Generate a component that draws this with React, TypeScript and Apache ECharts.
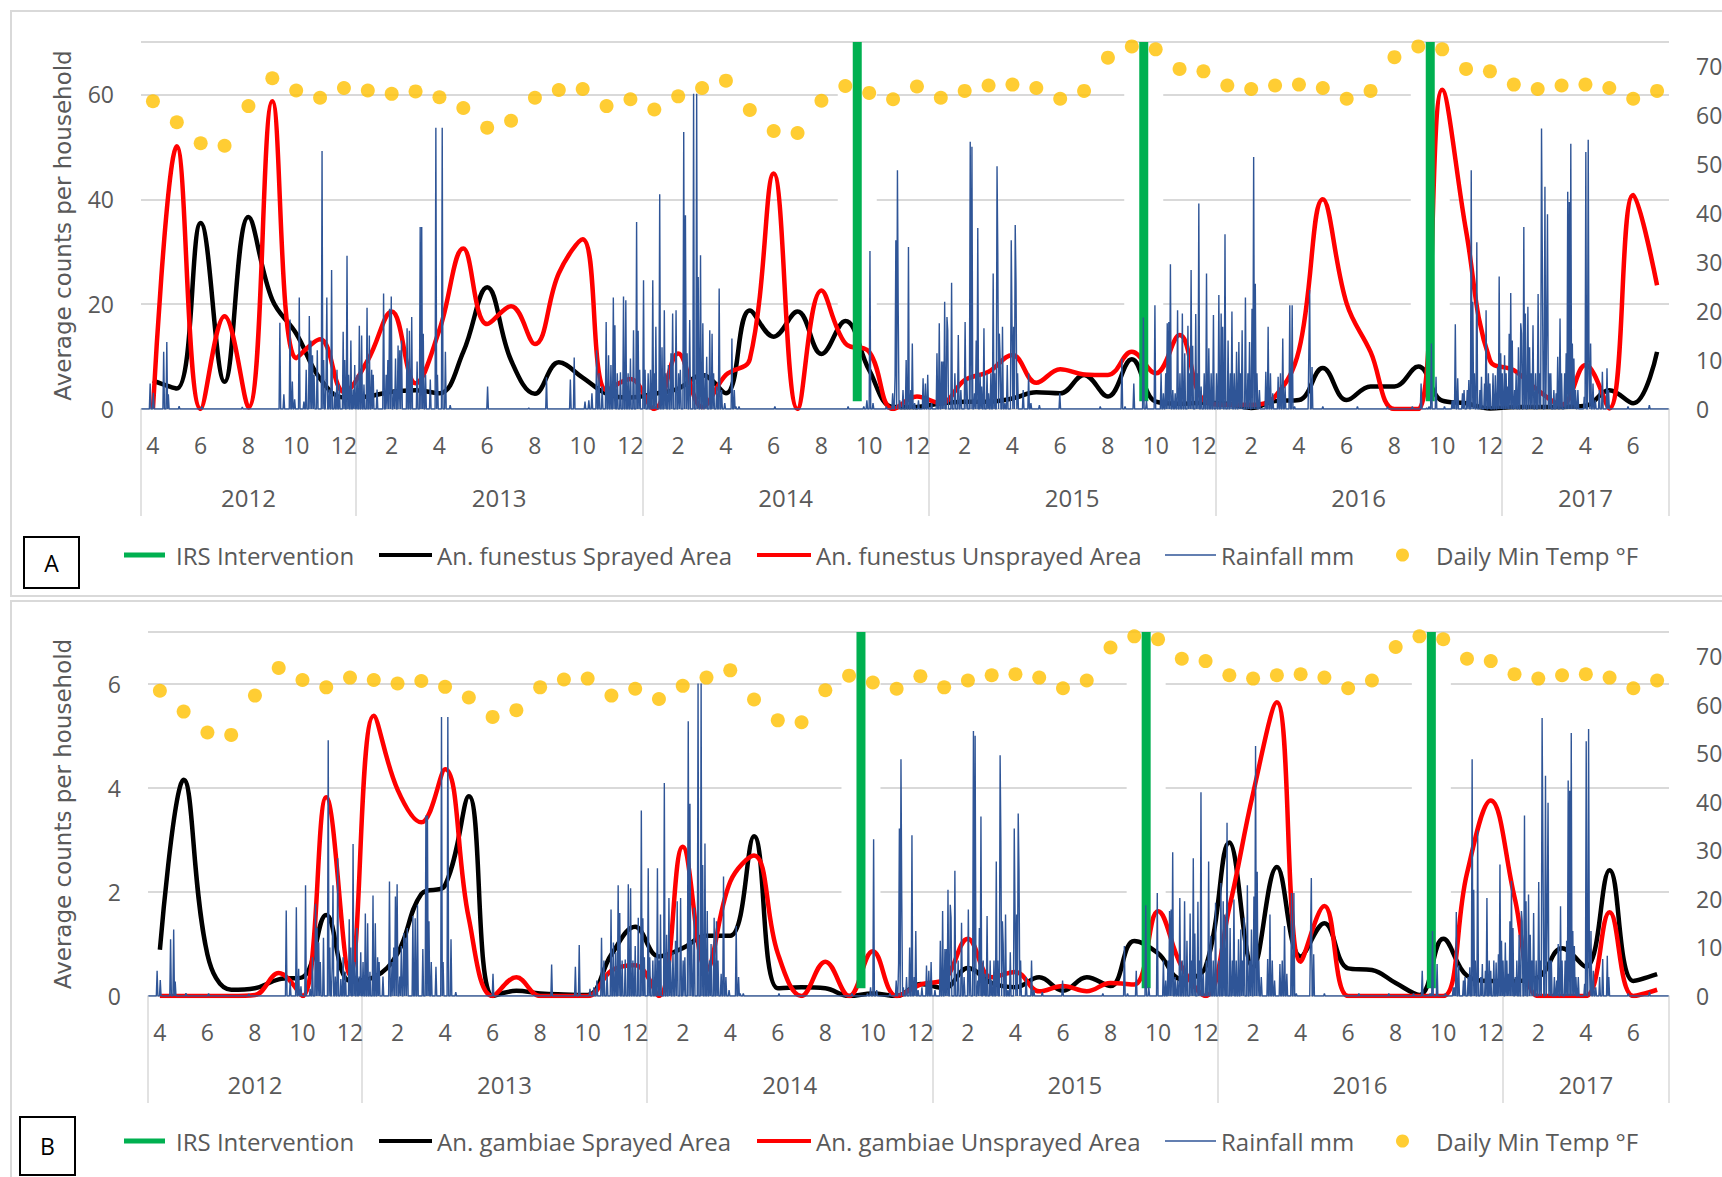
import React, { useEffect, useRef } from "react";
import * as echarts from "echarts";

// ---------- DATA (months indexed from April 2012 = 0 to July 2017 = 63) ----------
const monthTickLabels = ["4","6","8","10","12","2","4","6","8","10","12","2","4","6","8","10","12","2","4","6","8","10","12","2","4","6","8","10","12","2","4","6"];
const yearLabels = ["2012", "2013", "2014", "2015", "2016", "2017"];
const yearMonthCounts = [9, 12, 12, 12, 12, 7];
const irsMonthIndex = [30, 42, 54]; // 1 Oct 2014, 2015, 2016
const irsRange = [1.6, 75];

const dailyMinTempF = [62.9,58.6,54.3,53.8,61.9,67.6,65.1,63.6,65.6,65.1,64.4,64.9,63.7,61.5,57.5,58.9,63.6,65.2,65.4,61.9,63.3,61.2,63.9,65.6,67.1,61.1,56.8,56.4,63.0,66.0,64.6,63.3,65.9,63.6,65.0,66.1,66.3,65.6,63.4,65.0,71.8,74.1,73.5,69.5,69.0,66.1,65.4,66.1,66.3,65.6,63.4,65.0,71.9,74.1,73.5,69.5,69.0,66.3,65.4,66.1,66.3,65.6,63.4,65.0];

const funestusSprayed = [5.4,3.9,35.5,5.2,36.6,20.8,14.4,5.8,2.2,2.4,3.3,3.6,3.0,10.9,23.2,9.3,2.9,8.9,6.0,2.9,2.2,2.9,3.9,6.5,3.0,18.8,13.8,18.6,10.5,16.8,7.4,0.4,0.4,1.1,1.4,1.4,2.0,3.2,3.0,6.5,2.4,9.5,1.4,1.0,1.2,1.0,0.2,1.5,1.7,7.8,1.7,4.3,4.3,8.1,1.6,1.1,0.1,0.4,0.4,0.4,0.6,3.6,1.1,10.9];
const funestusUnsprayed = [0,50.1,0,17.7,0.3,58.7,9.7,13.3,3.3,9.3,18.6,4.9,15.1,30.6,16.2,19.6,12.4,25.9,32.4,3.6,5.7,0,10.6,0.4,6.5,9.5,44.9,0,22.6,12.5,10.9,0,2.4,1.1,5.5,7.1,10.3,5.0,7.6,6.6,6.5,10.9,6.8,14.1,1.7,0.8,0.8,2.4,11.2,40.0,20.1,10.9,0,0,60.9,34,9.3,7.4,3.6,0.8,8.4,0.1,40.8,23.6];

const gambiaeSprayed = [0.89,4.16,0.8,0.12,0.15,0.32,0.36,1.56,0.29,0.36,0.82,1.96,2.13,3.84,0,0.1,0.05,0.03,0.02,0.8,1.33,0.76,0.92,1.16,1.16,3.07,0.15,0.17,0.15,0,0.05,0,0.23,0.15,0.54,0.25,0.17,0.36,0.1,0.36,0.19,1.06,0.82,0.32,0.56,2.95,0.55,2.48,0.76,1.4,0.53,0.5,0.25,0.02,1.1,0.39,0.29,0.29,0.36,0.92,0.56,2.42,0.29,0.42];
const gambiaeUnsprayed = [0,0,0,0,0.02,0.44,0,3.82,0.4,5.39,3.97,3.34,4.36,1.49,0,0.36,0,0,0,0.49,0.59,0,2.87,0.5,2.2,2.7,0.82,0,0.66,0,0.86,0,0.22,0.32,1.1,0.36,0.46,0.09,0.19,0.09,0.25,0.22,1.63,0.56,0,1.7,3.9,5.65,0.66,1.73,0,0,0,0,0,2.36,3.76,1.9,0,0,0,1.61,0,0.12];

// rain days: [monthIndex, dayOfMonth, mm]; all other days 0 mm
const rainEvents: [number, number, number][] = [
  [0,12,5.2],[0,16,3.3],[0,29,11.7],
  [1,3,13.7],[1,5,3],[1,19,0.6],[2,17,0.5],[4,8,0.4],
  [5,25,17.6],[5,30,3],
  [6,8,18.3],[6,11,5.6],[6,14,2],[6,20,22.8],[6,26,1.5],[6,29,8],
  [7,2,19],[7,4,14],[7,6,11],[7,8,7],[7,12,12],[7,18,52.7],[7,20,10],[7,23,6],[7,24,22.8],[7,27,4],[7,30,28.4],
  [8,4,3.5],[8,7,8],[8,10,5],[8,15,15.8],[8,17,10],[8,20,31.3],[8,22,7],[8,25,14],[8,28,4],[8,30,9],
  [9,2,7],[9,5,17],[9,8,15],[9,11,5],[9,15,20.7],[9,18,15],[9,21,8],[9,23,7],[9,28,4],
  [10,5,23.6],[10,8,7],[10,10,10],[10,12,20.5],[10,14,23],[10,17,4],[10,19,10.3],[10,22,13],[10,24,12],[10,26,14],
  [11,5,16.5],[11,8,16],[11,11,18.8],[11,18,9.7],[11,22,37.2],[11,24,37.2],[11,26,15.4],[11,29,7],
  [12,4,6],[12,11,57.5],[12,13,7],[12,19,57.5],[12,23,11.7],[12,29,0.8],
  [14,16,4.6],[16,8,0.2],[16,31,6.5],[17,30,6],
  [18,5,10.5],[18,19,1.5],[18,24,1.8],[18,28,3.2],
  [19,3,12],[19,6,7.3],[19,10,4.6],[19,15,17.8],[19,18,11],[19,21,9],[19,24,22.8],[19,26,17.1],[19,29,7.3],
  [20,3,7.5],[20,7,23],[20,10,22.2],[20,13,7.3],[20,16,10.3],[20,20,16.1],[20,24,38.2],[20,26,16],[20,28,8],
  [21,2,26.3],[21,4,8],[21,8,7.3],[21,11,8],[21,14,26.3],[21,16,7.3],[21,18,16.8],[21,23,43.9],[21,26,12.6],[21,29,20.2],[21,31,7.3],
  [22,3,9],[22,6,11.4],[22,8,19.5],[22,12,20.2],[22,15,7.3],[22,17,8],[22,21,56.6],[22,23,39.6],[22,25,11.4],[22,28,18.2],
  [23,5,64.4],[23,9,64.4],[23,11,27],[23,14,31.4],[23,17,17.5],[23,20,7.3],[23,22,10.7],[23,26,16.1],[23,29,15.4],[23,31,7.3],
  [24,4,4.6],[24,7,24.6],[24,10,3.9],[24,14,1.2],[24,23,14.4],[24,26,3.9],[24,28,0.5],
  [25,2,0.5],[26,17,0.5],[29,19,0.5],
  [30,9,0.5],[30,13,1.8],[30,17,32.3],[30,21,1.2],
  [31,7,0.5],[31,15,3.2],[31,18,6.7],[31,19,34.5],[31,21,48.8],[31,22,20],[31,24,1.8],[31,28,3.9],
  [32,2,10],[32,5,33.1],[32,8,3.9],[32,10,13.4],[32,13,1.2],[32,18,1.8],[32,24,6.3],[32,27,5.2],[32,30,7],
  [33,4,1.2],[33,11,11.4],[33,14,17.5],[33,17,9.7],[33,19,9.7],[33,21,21.9],[33,24,18.8],[33,25,16.1],[33,30,25.8],
  [34,3,7.3],[34,7,15.1],[34,10,3.9],[34,15,17.8],[34,17,5.9],[34,21,54.6],[34,23,53.6],[34,26,3.2],[34,28,14],
  [35,2,37],[35,5,7.3],[35,7,4.6],[35,10,16.5],[35,14,7.3],[35,16,3.2],[35,19,7.3],[35,22,27.7],[35,24,7.3],[35,27,49.6],[35,28,31.8],[35,30,15.4],[35,31,10.7],
  [36,3,16.8],[36,6,1.2],[36,9,9],[36,14,34.5],[36,15,17],[36,17,16.8],[36,19,37.6],[36,20,25.8],[36,22,7.3],[36,29,3.9],
  [37,6,7.3],[37,9,1.2],[37,20,0.8],[38,15,3.2],[40,6,0.5],
  [41,3,10.3],[41,7,0.5],[41,18,5.2],[41,30,18.7],
  [42,4,1.8],[42,15,21.2],[42,23,7.3],[42,26,3.2],[42,29,7.3],[42,31,17.5],
  [43,2,17.8],[43,4,29.6],[43,7,3.9],[43,10,3.2],[43,13,20.2],[43,16,7.3],[43,19,19.5],[43,22,11.4],[43,26,17],[43,28,7.3],[43,30,28.4],
  [44,2,12.9],[44,6,19.4],[44,8,7.3],[44,10,42],[44,13,4.6],[44,17,7.3],[44,20,27.7],[44,23,12.4],[44,26,7.3],[44,29,19.2],
  [45,2,7.3],[45,5,23.3],[45,8,19.5],[45,10,16.8],[45,13,35.7],[45,17,14],[45,20,7.3],[45,22,19.9],[45,25,7.3],[45,28,11.7],[45,31,13.7],
  [46,2,7.3],[46,4,16.1],[46,8,22.8],[46,11,7.3],[46,13,13.7],[46,16,20.5],[46,18,51.5],[46,20,25.6],[46,22,7.3],[46,25,3.9],
  [47,4,7.6],[47,7,16.8],[47,10,7.3],[47,13,3.2],[47,20,6.6],[47,23,7.3],[47,26,14.4],[47,29,4.6],
  [48,4,21.2],[48,7,21.2],[48,10,0.5],[48,28,12.7],[48,29,24.3],
  [49,2,8.6],[49,16,0.5],[50,29,0.5],[52,7,0.5],
  [53,8,0.5],[53,19,5.2],[53,26,0.2],[53,29,0.5],
  [54,2,13.4],[54,8,6.6],[54,19,0.5],[54,29,1.8],[54,31,1.8],
  [55,2,17.3],[55,5,6.3],[55,11,3.2],[55,13,3.9],[55,17,3.9],[55,19,5.9],[55,22,48.8],[55,24,21.9],[55,26,7.3],[55,29,34.1],
  [56,3,3.9],[56,5,6.6],[56,9,5.2],[56,11,20.2],[56,14,7.3],[56,16,5.2],[56,20,7.3],[56,23,6.9],[56,26,8.6],[56,28,27.1],[56,30,11.4],
  [57,1,7.3],[57,4,11],[57,6,7.3],[57,8,4.6],[57,10,15.4],[57,12,23.7],[57,14,14],[57,17,3.9],[57,19,7.3],[57,22,12.6],[57,25,17.5],[57,26,15.4],[57,29,37.2],[57,31,19.5],
  [58,3,20.9],[58,5,12.6],[58,7,7.3],[58,9,17.1],[58,12,7.3],[58,15,23.5],[58,17,7.3],[58,19,57.3],[58,20,29],[58,23,45.4],[58,25,15.8],[58,26,39.8],[58,28,7.3],
  [59,2,7.3],[59,6,3.9],[59,9,3.2],[59,11,10.7],[59,14,18.5],[59,16,7.3],[59,20,7.3],[59,22,11.4],[59,24,44.4],[59,26,42.3],[59,28,54.2],[59,30,13.4],
  [60,1,10.3],[60,3,3.9],[60,6,3.9],[60,14,2.5],[60,16,52.5],[60,19,55],[60,20,7.3],[60,22,13.4],[60,25,5.2],[60,28,1.8],
  [61,3,3.9],[61,7,7.6],[61,13,8.3],[61,15,3.9],[62,9,0.5],[63,6,0.8],
];

// ---------- derived ----------
const MONTHS = 64;
const daysIn = (m: number) => {
  const y = 2012 + Math.floor((3 + m) / 12);
  const mo = (3 + m) % 12;
  return new Date(y, mo + 1, 0).getDate();
};
const rainMap = new Map<string, number>();
rainEvents.forEach(([m, d, v]) => rainMap.set(m + "-" + d, v));
const rainDaily: number[][] = [];
for (let m = 0; m < MONTHS; m++) {
  const n = daysIn(m);
  for (let d = 1; d <= n; d++) rainDaily.push([m + (d - 0.5) / n, rainMap.get(m + "-" + d) ?? 0]);
}
const yearBoundaries: number[] = [0];
yearMonthCounts.forEach((c) => yearBoundaries.push(yearBoundaries[yearBoundaries.length - 1] + c));
const yearCenters = yearMonthCounts.map((c, i) => yearBoundaries[i] + c / 2);
const monthLabelPos = monthTickLabels.map((_, k) => 2 * k + 0.5);
const monthly = (arr: number[]) => arr.map((v, i) => [i + 0.5, v]);

const FONT = '"Open Sans", sans-serif';
const GRAY = "#595959";
const GRIDC = "#d9d9d9";
const RAIN = "#2f5597";
const GREEN = "#00b050";
const YELLOW = "#ffc000";

const panels = [
  {
    grid: { left: 141, top: 42, width: 1528, height: 367 },
    leftMax: 70, leftInterval: 20, nameGap: 67,
    sprayed: funestusSprayed, unsprayed: funestusUnsprayed,
    sprayedName: "An. funestus Sprayed Area", unsprayedName: "An. funestus Unsprayed Area",
    legendTop: 543, label: "A", box: { x: 24, y: 537, w: 55, h: 51 },
  },
  {
    grid: { left: 148, top: 632, width: 1521, height: 364 },
    leftMax: 7, leftInterval: 2, nameGap: 74,
    sprayed: gambiaeSprayed, unsprayed: gambiaeUnsprayed,
    sprayedName: "An. gambiae Sprayed Area", unsprayedName: "An. gambiae Unsprayed Area",
    legendTop: 1129, label: "B", box: { x: 20, y: 1117, w: 55, h: 58 },
  },
];

function buildOption() {
  const grids: any[] = [], xAxes: any[] = [], yAxes: any[] = [], series: any[] = [], legends: any[] = [], graphics: any[] = [];
  const labelStyle = { fontFamily: FONT, color: GRAY, fontSize: 23 };
  const legendText = { fontFamily: FONT, color: GRAY, fontSize: 24 };

  panels.forEach((p, gi) => {
    grids.push({ ...p.grid, containLabel: false, outerBoundsMode: "none" });
    xAxes.push({
      type: "value", gridIndex: gi, position: "bottom", offset: 0, min: 0, max: MONTHS,
      axisLine: { show: true, onZero: false, lineStyle: { color: GRIDC, width: 1.5 } },
      axisTick: { show: false }, splitLine: { show: false },
      axisLabel: {
        ...labelStyle, margin: 24, customValues: monthLabelPos,
        formatter: (v: number) => monthTickLabels[Math.round((v - 0.5) / 2)] ?? "",
      },
    });
    xAxes.push({
      type: "value", gridIndex: gi, position: "bottom", offset: 0, min: 0, max: MONTHS,
      axisLine: { show: false, onZero: false },
      axisTick: { show: true, customValues: yearBoundaries, length: 107, lineStyle: { color: GRIDC, width: 1.5 } },
      splitLine: { show: false },
      axisLabel: {
        ...labelStyle, fontSize: 24, margin: 76, customValues: yearCenters,
        formatter: (v: number) => { const i = yearCenters.findIndex((c) => Math.abs(c - v) < 1e-6); return i >= 0 ? yearLabels[i] : ""; },
      },
    });
    yAxes.push({
      type: "value", gridIndex: gi, position: "left", min: 0, max: p.leftMax, interval: p.leftInterval,
      axisLine: { show: false }, axisTick: { show: false },
      splitLine: { show: true, lineStyle: { color: GRIDC, width: 2 } },
      axisLabel: { ...labelStyle, margin: 27, showMaxLabel: false, formatter: (v: number) => (v >= p.leftMax ? "" : String(v)) },
      name: "Average counts per household", nameLocation: "middle", nameRotate: 90, nameGap: p.nameGap,
      nameTextStyle: { fontFamily: '"DejaVu Sans", sans-serif', fontSize: 23, color: GRAY },
    });
    yAxes.push({
      type: "value", gridIndex: gi, position: "right", min: 0, max: 75, interval: 10,
      axisLine: { show: false }, axisTick: { show: false }, splitLine: { show: false },
      axisLabel: { ...labelStyle, margin: 27, showMaxLabel: false, formatter: (v: number) => (v >= 75 ? "" : String(v)) },
    });
    const xl = 2 * gi, yl = 2 * gi, yr = 2 * gi + 1;
    const irsData = irsMonthIndex.map((m) => [m, irsRange[0], irsRange[1]]);
    const rectItem = (w: number, color: string, lo: number, hi: number) => (params: any, api: any) => {
      const x = api.value(0);
      const a = api.coord([x, lo]);
      const b = api.coord([x, hi]);
      return { type: "rect", shape: { x: a[0] - w / 2, y: b[1], width: w, height: a[1] - b[1] }, style: { fill: color } };
    };
    series.push({
      type: "custom", name: "gap" + gi, xAxisIndex: xl, yAxisIndex: yr, data: irsData, z: 1, silent: true,
      encode: { x: 0, y: [1, 2] }, renderItem: rectItem(39, "#ffffff", 0.6, 72),
    });
    series.push({
      type: "line", name: p.sprayedName, xAxisIndex: xl, yAxisIndex: yl, data: monthly(p.sprayed),
      smooth: 0.4, symbol: "none", lineStyle: { color: "#000000", width: 4.5 }, itemStyle: { color: "#000000" }, z: 3, silent: true,
    });
    series.push({
      type: "line", name: p.unsprayedName, xAxisIndex: xl, yAxisIndex: yl, data: monthly(p.unsprayed),
      smooth: 0.4, symbol: "none", lineStyle: { color: "#ff0000", width: 4.5 }, itemStyle: { color: "#ff0000" }, z: 3, silent: true,
    });
    series.push({
      type: "custom", name: "IRS Intervention", xAxisIndex: xl, yAxisIndex: yr, data: irsData, z: 4, silent: true,
      itemStyle: { color: GREEN }, encode: { x: 0, y: [1, 2] }, renderItem: rectItem(9, GREEN, irsRange[0], irsRange[1]),
    });
    series.push({
      type: "line", name: "Rainfall mm", xAxisIndex: xl, yAxisIndex: yr, data: rainDaily,
      symbol: "none", lineStyle: { color: RAIN, width: 1.4 }, itemStyle: { color: RAIN }, z: 5, silent: true,
    });
    series.push({
      type: "scatter", name: "Daily Min Temp °F", xAxisIndex: xl, yAxisIndex: yr, data: monthly(dailyMinTempF),
      symbolSize: 14, itemStyle: { color: YELLOW }, z: 6, silent: true,
    });

    const lt = p.legendTop;
    const base = { top: lt, padding: 0, itemGap: 0, selectedMode: false, orient: "horizontal" };
    legends.push({ ...base, left: 124, data: ["IRS Intervention"], icon: "rect", itemWidth: 41, itemHeight: 5, textStyle: { ...legendText, padding: [0, 0, 0, 6] } });
    legends.push({ ...base, left: 379, data: [p.sprayedName], icon: "rect", itemWidth: 53, itemHeight: 4, textStyle: legendText });
    legends.push({ ...base, left: 757, data: [p.unsprayedName], icon: "rect", itemWidth: 54, itemHeight: 4, textStyle: legendText });
    legends.push({ ...base, left: 1165, data: ["Rainfall mm"], icon: "rect", itemWidth: 51, itemHeight: 1.5, textStyle: legendText });
    legends.push({ ...base, left: 1396, data: ["Daily Min Temp °F"], icon: "circle", itemWidth: 13, itemHeight: 13, textStyle: { ...legendText, padding: [0, 0, 0, 22] } });

    graphics.push({ type: "rect", silent: true, z: 0, shape: gi === 0 ? { x: 11, y: 11, width: 1720, height: 585 } : { x: 11, y: 601, width: 1720, height: 600 }, style: { fill: "none", stroke: GRIDC, lineWidth: 2 } });
    graphics.push({ type: "rect", silent: true, z: 10, shape: { x: p.box.x, y: p.box.y, width: p.box.w, height: p.box.h }, style: { fill: "#ffffff", stroke: "#000000", lineWidth: 2 } });
    graphics.push({ type: "text", silent: true, z: 11, x: p.box.x + p.box.w / 2, y: p.box.y + p.box.h / 2, style: { text: p.label, fontSize: 23, fontFamily: FONT, fill: "#000000", align: "center", verticalAlign: "middle" } });
  });

  return {
    animation: false,
    backgroundColor: "#ffffff",
    grid: grids, xAxis: xAxes, yAxis: yAxes, series, legend: legends, graphic: graphics,
  };
}

export default function App() {
  const ref = useRef<HTMLDivElement>(null);
  useEffect(() => {
    if (!ref.current) return;
    const chart = echarts.init(ref.current, undefined, { renderer: "svg" });
    chart.setOption(buildOption() as any);
    return () => chart.dispose();
  }, []);
  return <div ref={ref} style={{ position: "absolute", left: 0, top: 0, width: 1722, height: 1177 }} />;
}
